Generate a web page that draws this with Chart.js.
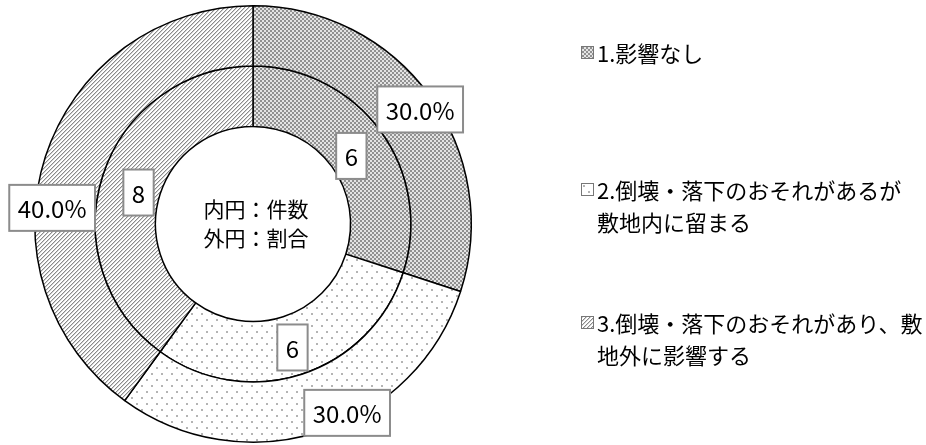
<!DOCTYPE html>
<html>
<head>
<meta charset="utf-8">
<script src="https://cdn.jsdelivr.net/npm/chart.js@4.4.1/dist/chart.umd.min.js"></script>
<style>
  html, body { margin: 0; padding: 0; background: #fff; }
  #wrap { position: relative; width: 926px; height: 445px; overflow: hidden; }
  #chart { position: absolute; left: 0; top: 0; }
  .leg { position: absolute; left: 581px; font: 22px "Noto Sans CJK JP", sans-serif; line-height: 32px; color: #000; }
  .leg .sw { position: absolute; left: 0; top: 10px; width: 11px; height: 11px; border: 1px solid #777; }
  .leg .tx { margin-left: 16px; white-space: nowrap; }
</style>
</head>
<body>
<div id="wrap">
  <canvas id="chart" width="926" height="445"></canvas>
</div>
<script>
// categories (legend lines as they wrap in the picture)
const categories = [
  ['1.影響なし'],
  ['2.倒壊・落下のおそれがあるが', '敷地内に留まる'],
  ['3.倒壊・落下のおそれがあり、敷', '地外に影響する']
];
const outerShares = [30, 30, 40];   // 外円：割合 (%)
const innerCounts = [6, 6, 8];      // 内円：件数
const centerText = ['内円：件数', '外円：割合'];

// little fill patterns like the Excel ones
function makeTile(w, h, draw) {
  const c = document.createElement('canvas');
  c.width = w; c.height = h;
  const g = c.getContext('2d');
  g.fillStyle = '#fff';
  g.fillRect(0, 0, w, h);
  draw(g);
  return c;
}
const tiles = [
  makeTile(4, 4, g => {            // checker
    g.fillStyle = '#e4e4e4'; g.fillRect(0, 0, 4, 4);
    g.fillStyle = '#919191'; g.fillRect(0, 0, 2, 2); g.fillRect(2, 2, 2, 2);
  }),
  makeTile(10, 12, g => {          // sparse dots
    g.fillStyle = '#b4b4b4';
    g.fillRect(1, 1, 2, 2); g.fillRect(6, 7, 2, 2);
  }),
  makeTile(4, 4, g => {            // diagonal hatch, thin
    for (let k = 0; k < 4; k++) {
      g.fillStyle = '#8a8a8a'; g.fillRect(3 - k, k, 1, 1);
      g.fillStyle = '#d2d2d2'; g.fillRect((4 - k) % 4, k, 1, 1);
    }
  })
];

const canvas = document.getElementById('chart');
const ctx = canvas.getContext('2d');
const fills = tiles.map(t => ctx.createPattern(t, 'repeat'));

// manual nudges of the data labels (Excel had them dragged a bit)
const labelShift = [
  [[15, -4], [36, 10], [-22, 42]],
  [[-5, 7], [0, 2], [7, 8]]
];

const labelPlugin = {
  id: 'boxLabels',
  afterDatasetsDraw(chart) {
    const c = chart.ctx;
    c.save();
    c.font = '24px "Noto Sans CJK JP", sans-serif';
    c.textAlign = 'center';
    c.textBaseline = 'middle';
    chart.data.datasets.forEach((ds, di) => {
      chart.getDatasetMeta(di).data.forEach((arc, i) => {
        const p = arc.tooltipPosition();
        const x = p.x + labelShift[di][i][0];
        const y = p.y + labelShift[di][i][1];
        const txt = di === 0 ? ds.data[i].toFixed(1) + '%' : String(ds.data[i]);
        const w = c.measureText(txt).width + 17;
        const h = 46;
        c.fillStyle = '#fff';
        c.fillRect(x - w / 2, y - h / 2, w, h);
        c.strokeStyle = '#8c8c8c';
        c.lineWidth = 2;
        c.strokeRect(x - w / 2, y - h / 2, w, h);
        c.fillStyle = '#000';
        c.fillText(txt, x, y + 1);
      });
    });
    // centre caption
    const m = chart.getDatasetMeta(0).data[0];
    c.font = '21px "Noto Sans CJK JP", sans-serif';
    c.fillText(centerText[0], m.x + 3, m.y - 15);
    c.fillText(centerText[1], m.x + 3, m.y + 14);
    c.restore();
  }
};

new Chart(ctx, {
  type: 'doughnut',
  data: {
    labels: categories.map(l => l.join('')),
    datasets: [
      { data: outerShares, backgroundColor: fills, borderColor: '#000', borderWidth: 1.5 },
      { data: innerCounts, backgroundColor: fills, borderColor: '#000', borderWidth: 1.5 }
    ]
  },
  options: {
    responsive: false,
    animation: false,
    cutout: '44.7%',
    layout: { padding: { left: 34, top: 5, right: 454, bottom: 2 } },
    plugins: { legend: { display: false }, tooltip: { enabled: false } }
  },
  plugins: [labelPlugin]
});

// legend on the right
const legTops = [36, 173, 306];
const wrap = document.getElementById('wrap');
categories.forEach((lines, i) => {
  const item = document.createElement('div');
  item.className = 'leg';
  item.style.top = legTops[i] + 'px';
  const sw = document.createElement('div');
  sw.className = 'sw';
  sw.style.backgroundImage = 'url(' + tiles[i].toDataURL() + ')';
  item.appendChild(sw);
  lines.forEach(t => {
    const d = document.createElement('div');
    d.className = 'tx';
    d.textContent = t;
    item.appendChild(d);
  });
  wrap.appendChild(item);
});
</script>
</body>
</html>
